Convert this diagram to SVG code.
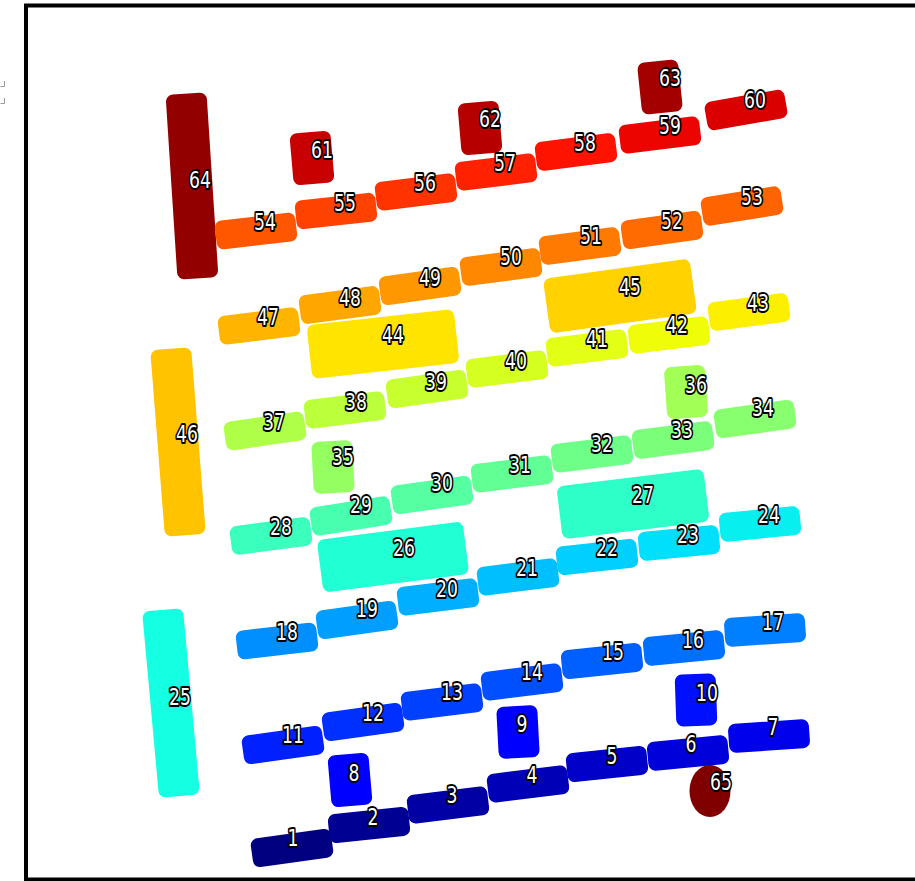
<svg xmlns="http://www.w3.org/2000/svg" width="915" height="881" viewBox="0 0 915 881">
<style>
text.l{font-family:"DejaVu Sans","Liberation Sans",sans-serif;font-size:23px;fill:#fff;stroke:#000;stroke-width:4px;paint-order:stroke;stroke-linejoin:round;text-anchor:middle}
.frame{fill:none;stroke:#000;stroke-width:4}
.mk{fill:none;stroke:#999;stroke-width:1}
</style>
<rect width="915" height="881" fill="#fff"/>
<rect class="frame" x="26" y="5.5" width="900" height="874"/>
<path class="mk" d="M0.5 86.5H4.5V81M0.5 103.5H4.5V98"/>
<g id="nodes">
<g id="n64"><rect x="-20.5" y="-92.5" width="41" height="185" rx="7" fill="#920000" transform="translate(192 186) rotate(-3.7)"/><text class="l" transform="translate(200 180) scale(.75 1)" y="8.4">64</text></g>
<g id="n61"><rect x="-20.5" y="-26" width="41" height="52" rx="7" fill="#c80000" transform="translate(312 158) rotate(-5)"/><text class="l" transform="translate(322 150) scale(.75 1)" y="8.4">61</text></g>
<g id="n62"><rect x="-20.5" y="-26" width="41" height="52" rx="7" fill="#b60000" transform="translate(480 128) rotate(-5)"/><text class="l" transform="translate(490 119) scale(.75 1)" y="8.4">62</text></g>
<g id="n63"><rect x="-20.5" y="-26" width="41" height="52" rx="7" fill="#a40000" transform="translate(660 87) rotate(-6)"/><text class="l" transform="translate(670 78) scale(.75 1)" y="8.4">63</text></g>
<g id="n46"><rect x="-20.5" y="-93.5" width="41" height="187" rx="7" fill="#ffc300" transform="translate(178 442) rotate(-4.5)"/><text class="l" transform="translate(187 434) scale(.75 1)" y="8.4">46</text></g>
<g id="n44"><rect x="-74" y="-27" width="148" height="54" rx="7" fill="#ffe400" transform="translate(383 344) rotate(-6.3)"/><text class="l" transform="translate(393 335) scale(.75 1)" y="8.4">44</text></g>
<g id="n45"><rect x="-74" y="-27.5" width="148" height="55" rx="7" fill="#ffd200" transform="translate(620 296) rotate(-8)"/><text class="l" transform="translate(630 287) scale(.75 1)" y="8.4">45</text></g>
<g id="n35"><rect x="-20.5" y="-26" width="41" height="52" rx="7" fill="#95ff62" transform="translate(333 467) rotate(-3)"/><text class="l" transform="translate(343 457) scale(.75 1)" y="8.4">35</text></g>
<g id="n36"><rect x="-20.5" y="-26" width="41" height="52" rx="7" fill="#a2ff55" transform="translate(686 392) rotate(-4)"/><text class="l" transform="translate(696 385) scale(.75 1)" y="8.4">36</text></g>
<g id="n25"><rect x="-20.5" y="-93.5" width="41" height="187" rx="7" fill="#15ffe2" transform="translate(171 703) rotate(-5.2)"/><text class="l" transform="translate(180 697) scale(.75 1)" y="8.4">25</text></g>
<g id="n26"><rect x="-73.5" y="-26.5" width="147" height="53" rx="7" fill="#21ffd5" transform="translate(393 557) rotate(-7.4)"/><text class="l" transform="translate(404 548) scale(.75 1)" y="8.4">26</text></g>
<g id="n27"><rect x="-74" y="-26.5" width="148" height="53" rx="7" fill="#2effc8" transform="translate(633 504) rotate(-7)"/><text class="l" transform="translate(643 495) scale(.75 1)" y="8.4">27</text></g>
<g id="n8"><rect x="-20.5" y="-26" width="41" height="52" rx="7" fill="#0000fe" transform="translate(350 780) rotate(-5)"/><text class="l" transform="translate(354 773) scale(.75 1)" y="8.4">8</text></g>
<g id="n9"><rect x="-20.5" y="-26" width="41" height="52" rx="7" fill="#0000ff" transform="translate(518 732) rotate(-3)"/><text class="l" transform="translate(522 724) scale(.75 1)" y="8.4">9</text></g>
<g id="n10"><rect x="-20.5" y="-26" width="41" height="52" rx="7" fill="#0010ff" transform="translate(696 700) rotate(-2)"/><text class="l" transform="translate(707 693) scale(.75 1)" y="8.4">10</text></g>
<g id="n65"><ellipse cx="710" cy="791" rx="20.5" ry="26" fill="#800000"/><text class="l" transform="translate(721 782) scale(.75 1)" y="8.4">65</text></g>

<g id="n1"><rect x="-40.5" y="-14.5" width="81" height="29" rx="7" fill="#000080" transform="translate(292 848) rotate(-8)"/><text class="l" transform="translate(293 838) scale(.75 1)" y="8.4">1</text></g>
<g id="n2"><rect x="-40.5" y="-14.5" width="81" height="29" rx="7" fill="#000092" transform="translate(369 825) rotate(-6)"/><text class="l" transform="translate(373 817) scale(.75 1)" y="8.4">2</text></g>
<g id="n3"><rect x="-40.5" y="-14.5" width="81" height="29" rx="7" fill="#0000a4" transform="translate(448 805) rotate(-7)"/><text class="l" transform="translate(452 795) scale(.75 1)" y="8.4">3</text></g>
<g id="n4"><rect x="-40.5" y="-14.5" width="81" height="29" rx="7" fill="#0000b6" transform="translate(528 784) rotate(-7)"/><text class="l" transform="translate(532 775) scale(.75 1)" y="8.4">4</text></g>
<g id="n5"><rect x="-40.5" y="-14.5" width="81" height="29" rx="7" fill="#0000c8" transform="translate(607 764) rotate(-6)"/><text class="l" transform="translate(612 756) scale(.75 1)" y="8.4">5</text></g>
<g id="n6"><rect x="-40.5" y="-14.5" width="81" height="29" rx="7" fill="#0000da" transform="translate(688 753) rotate(-5.5)"/><text class="l" transform="translate(691 744) scale(.75 1)" y="8.4">6</text></g>
<g id="n7"><rect x="-40.5" y="-14.5" width="81" height="29" rx="7" fill="#0000ed" transform="translate(769 736) rotate(-4)"/><text class="l" transform="translate(773 727) scale(.75 1)" y="8.4">7</text></g>
<g id="n11"><rect x="-40.5" y="-14.5" width="81" height="29" rx="7" fill="#0020ff" transform="translate(283 745) rotate(-8)"/><text class="l" transform="translate(293 735) scale(.75 1)" y="8.4">11</text></g>
<g id="n12"><rect x="-40.5" y="-14.5" width="81" height="29" rx="7" fill="#0030ff" transform="translate(363 722) rotate(-8)"/><text class="l" transform="translate(373 713) scale(.75 1)" y="8.4">12</text></g>
<g id="n13"><rect x="-40.5" y="-14.5" width="81" height="29" rx="7" fill="#0040ff" transform="translate(442 702) rotate(-7)"/><text class="l" transform="translate(452 692) scale(.75 1)" y="8.4">13</text></g>
<g id="n14"><rect x="-40.5" y="-14.5" width="81" height="29" rx="7" fill="#0050ff" transform="translate(522 682) rotate(-7)"/><text class="l" transform="translate(532 672) scale(.75 1)" y="8.4">14</text></g>
<g id="n15"><rect x="-40.5" y="-14.5" width="81" height="29" rx="7" fill="#0060ff" transform="translate(602 661) rotate(-6)"/><text class="l" transform="translate(613 652) scale(.75 1)" y="8.4">15</text></g>
<g id="n16"><rect x="-40.5" y="-14.5" width="81" height="29" rx="7" fill="#0070ff" transform="translate(684 648) rotate(-5.5)"/><text class="l" transform="translate(693 640) scale(.75 1)" y="8.4">16</text></g>
<g id="n17"><rect x="-40.5" y="-14.5" width="81" height="29" rx="7" fill="#0080ff" transform="translate(765 630) rotate(-4)"/><text class="l" transform="translate(773 622) scale(.75 1)" y="8.4">17</text></g>
<g id="n18"><rect x="-40.5" y="-14.5" width="81" height="29" rx="7" fill="#008fff" transform="translate(277 641) rotate(-6.5)"/><text class="l" transform="translate(287 632) scale(.75 1)" y="8.4">18</text></g>
<g id="n19"><rect x="-40.5" y="-14.5" width="81" height="29" rx="7" fill="#009fff" transform="translate(357 620) rotate(-8)"/><text class="l" transform="translate(367 609) scale(.75 1)" y="8.4">19</text></g>
<g id="n20"><rect x="-40.5" y="-14.5" width="81" height="29" rx="7" fill="#00afff" transform="translate(438 597) rotate(-7)"/><text class="l" transform="translate(447 589) scale(.75 1)" y="8.4">20</text></g>
<g id="n21"><rect x="-40.5" y="-14.5" width="81" height="29" rx="7" fill="#00bfff" transform="translate(518 577) rotate(-7)"/><text class="l" transform="translate(527 568) scale(.75 1)" y="8.4">21</text></g>
<g id="n22"><rect x="-40.5" y="-14.5" width="81" height="29" rx="7" fill="#00cfff" transform="translate(597 557) rotate(-6.3)"/><text class="l" transform="translate(607 548) scale(.75 1)" y="8.4">22</text></g>
<g id="n23"><rect x="-40.5" y="-14.5" width="81" height="29" rx="7" fill="#00dffc" transform="translate(679 543) rotate(-5.5)"/><text class="l" transform="translate(688 535) scale(.75 1)" y="8.4">23</text></g>
<g id="n24"><rect x="-40.5" y="-14.5" width="81" height="29" rx="7" fill="#08efef" transform="translate(760 524) rotate(-5.5)"/><text class="l" transform="translate(769 515) scale(.75 1)" y="8.4">24</text></g>
<g id="n28"><rect x="-40.5" y="-14.5" width="81" height="29" rx="7" fill="#3bffbc" transform="translate(271 536) rotate(-7.5)"/><text class="l" transform="translate(281 527) scale(.75 1)" y="8.4">28</text></g>
<g id="n29"><rect x="-40.5" y="-14.5" width="81" height="29" rx="7" fill="#48ffaf" transform="translate(351 516) rotate(-9)"/><text class="l" transform="translate(361 505) scale(.75 1)" y="8.4">29</text></g>
<g id="n30"><rect x="-40.5" y="-14.5" width="81" height="29" rx="7" fill="#55ffa2" transform="translate(432 495) rotate(-8)"/><text class="l" transform="translate(442 483) scale(.75 1)" y="8.4">30</text></g>
<g id="n31"><rect x="-40.5" y="-14.5" width="81" height="29" rx="7" fill="#62ff95" transform="translate(512 474) rotate(-7)"/><text class="l" transform="translate(520 465) scale(.75 1)" y="8.4">31</text></g>
<g id="n32"><rect x="-40.5" y="-14.5" width="81" height="29" rx="7" fill="#6eff88" transform="translate(592 454) rotate(-7)"/><text class="l" transform="translate(602 444) scale(.75 1)" y="8.4">32</text></g>
<g id="n33"><rect x="-40.5" y="-14.5" width="81" height="29" rx="7" fill="#7bff7b" transform="translate(673 440) rotate(-7.3)"/><text class="l" transform="translate(682 430) scale(.75 1)" y="8.4">33</text></g>
<g id="n34"><rect x="-40.5" y="-14.5" width="81" height="29" rx="7" fill="#88ff6e" transform="translate(755 419) rotate(-8)"/><text class="l" transform="translate(763 408) scale(.75 1)" y="8.4">34</text></g>
<g id="n37"><rect x="-40.5" y="-14.5" width="81" height="29" rx="7" fill="#afff48" transform="translate(265 431) rotate(-8.3)"/><text class="l" transform="translate(274 422) scale(.75 1)" y="8.4">37</text></g>
<g id="n38"><rect x="-40.5" y="-14.5" width="81" height="29" rx="7" fill="#bcff3b" transform="translate(345 410) rotate(-7)"/><text class="l" transform="translate(356 402) scale(.75 1)" y="8.4">38</text></g>
<g id="n39"><rect x="-40.5" y="-14.5" width="81" height="29" rx="7" fill="#c8ff2e" transform="translate(427 389) rotate(-8)"/><text class="l" transform="translate(436 382) scale(.75 1)" y="8.4">39</text></g>
<g id="n40"><rect x="-40.5" y="-14.5" width="81" height="29" rx="7" fill="#d5ff21" transform="translate(507 369) rotate(-7)"/><text class="l" transform="translate(516 361) scale(.75 1)" y="8.4">40</text></g>
<g id="n41"><rect x="-40.5" y="-14.5" width="81" height="29" rx="7" fill="#e2ff15" transform="translate(587 348) rotate(-7)"/><text class="l" transform="translate(597 339) scale(.75 1)" y="8.4">41</text></g>
<g id="n42"><rect x="-40.5" y="-14.5" width="81" height="29" rx="7" fill="#effe08" transform="translate(669 335) rotate(-7)"/><text class="l" transform="translate(677 325) scale(.75 1)" y="8.4">42</text></g>
<g id="n43"><rect x="-40.5" y="-14.5" width="81" height="29" rx="7" fill="#fcf000" transform="translate(749 312) rotate(-7.4)"/><text class="l" transform="translate(758 303) scale(.75 1)" y="8.4">43</text></g>
<g id="n47"><rect x="-40.5" y="-14.5" width="81" height="29" rx="7" fill="#ffb500" transform="translate(259 326) rotate(-7)"/><text class="l" transform="translate(268 317) scale(.75 1)" y="8.4">47</text></g>
<g id="n48"><rect x="-40.5" y="-14.5" width="81" height="29" rx="7" fill="#ffa600" transform="translate(340 305) rotate(-7.7)"/><text class="l" transform="translate(350 298) scale(.75 1)" y="8.4">48</text></g>
<g id="n49"><rect x="-40.5" y="-14.5" width="81" height="29" rx="7" fill="#ff9700" transform="translate(420 286) rotate(-8)"/><text class="l" transform="translate(430 278) scale(.75 1)" y="8.4">49</text></g>
<g id="n50"><rect x="-40.5" y="-14.5" width="81" height="29" rx="7" fill="#ff8800" transform="translate(501 267) rotate(-7.4)"/><text class="l" transform="translate(511 257) scale(.75 1)" y="8.4">50</text></g>
<g id="n51"><rect x="-40.5" y="-14.5" width="81" height="29" rx="7" fill="#ff7a00" transform="translate(580 246) rotate(-7.5)"/><text class="l" transform="translate(591 236) scale(.75 1)" y="8.4">51</text></g>
<g id="n52"><rect x="-40.5" y="-14.5" width="81" height="29" rx="7" fill="#ff6b00" transform="translate(662 230) rotate(-8)"/><text class="l" transform="translate(672 221) scale(.75 1)" y="8.4">52</text></g>
<g id="n53"><rect x="-40.5" y="-14.5" width="81" height="29" rx="7" fill="#ff6400" transform="translate(742 206) rotate(-9)"/><text class="l" transform="translate(752 197) scale(.75 1)" y="8.4">53</text></g>
<g id="n54"><rect x="-40.5" y="-14.5" width="81" height="29" rx="7" fill="#ff5600" transform="translate(256 231) rotate(-6.5)"/><text class="l" transform="translate(265 222) scale(.75 1)" y="8.4">54</text></g>
<g id="n55"><rect x="-40.5" y="-14.5" width="81" height="29" rx="7" fill="#ff4200" transform="translate(336 211) rotate(-6.3)"/><text class="l" transform="translate(345 203) scale(.75 1)" y="8.4">55</text></g>
<g id="n56"><rect x="-40.5" y="-14.5" width="81" height="29" rx="7" fill="#ff3300" transform="translate(416 192) rotate(-7)"/><text class="l" transform="translate(425 183) scale(.75 1)" y="8.4">56</text></g>
<g id="n57"><rect x="-40.5" y="-14.5" width="81" height="29" rx="7" fill="#ff2100" transform="translate(496 172) rotate(-7)"/><text class="l" transform="translate(505 163) scale(.75 1)" y="8.4">57</text></g>
<g id="n58"><rect x="-40.5" y="-14.5" width="81" height="29" rx="7" fill="#fe1200" transform="translate(576 152) rotate(-7.3)"/><text class="l" transform="translate(585 143) scale(.75 1)" y="8.4">58</text></g>
<g id="n59"><rect x="-40.5" y="-14.5" width="81" height="29" rx="7" fill="#ec0400" transform="translate(660 135) rotate(-7)"/><text class="l" transform="translate(670 126) scale(.75 1)" y="8.4">59</text></g>
<g id="n60"><rect x="-40.5" y="-14.5" width="81" height="29" rx="7" fill="#da0000" transform="translate(746 110) rotate(-10)"/><text class="l" transform="translate(755 100) scale(.75 1)" y="8.4">60</text></g>
</g>
</svg>
